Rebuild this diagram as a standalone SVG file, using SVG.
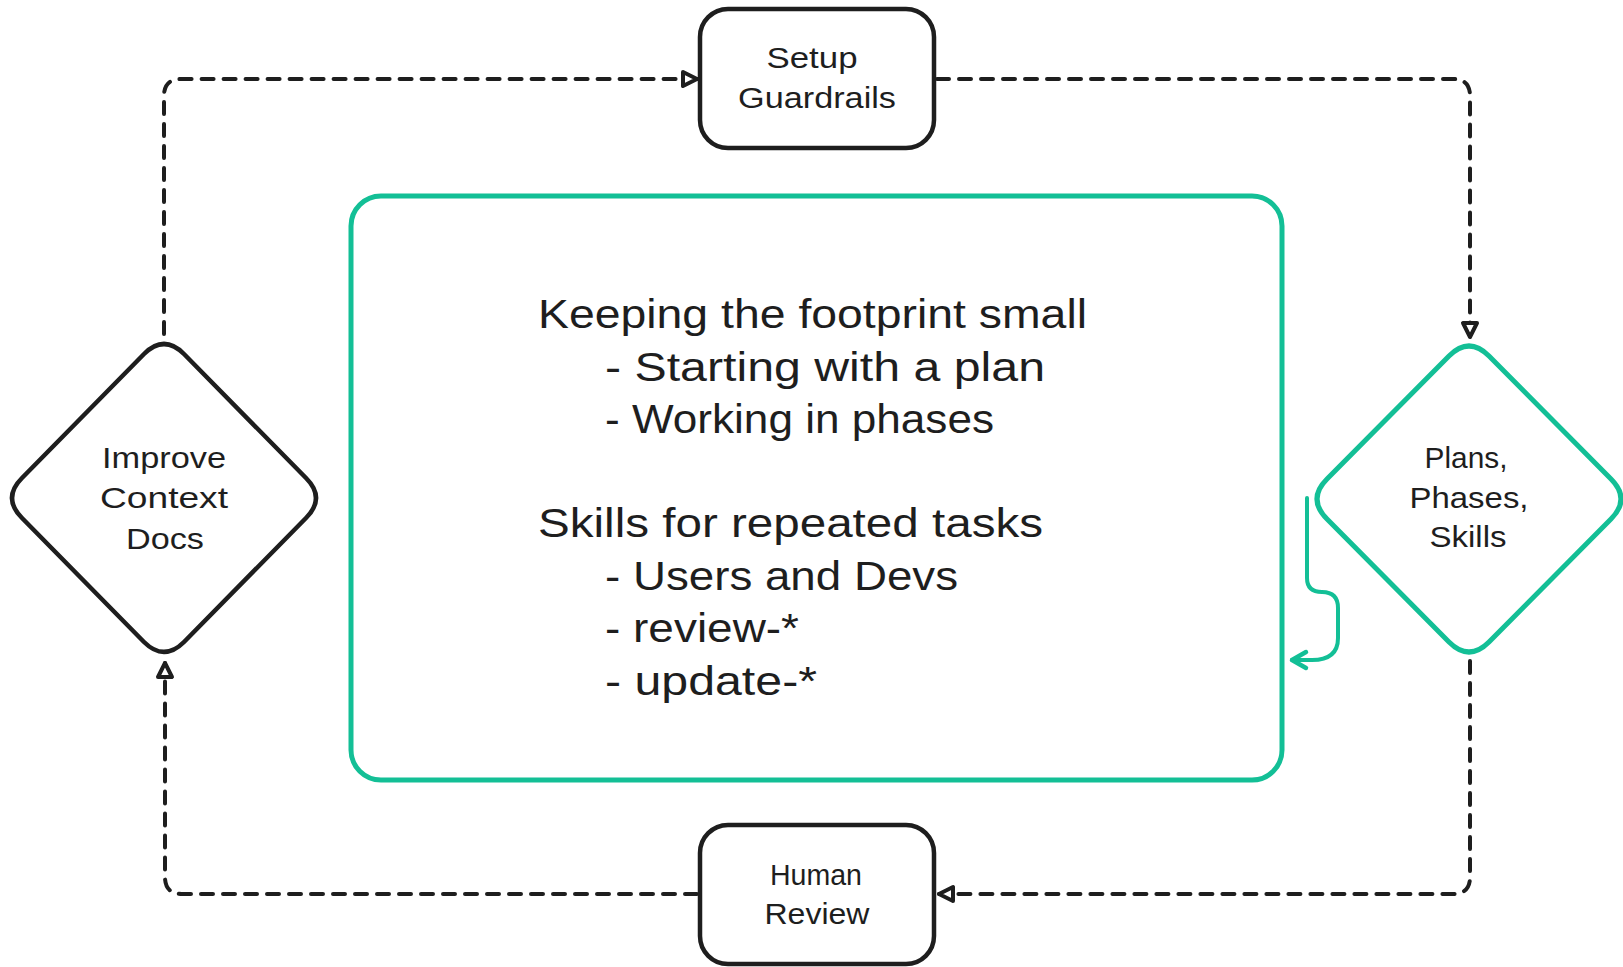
<svg xmlns="http://www.w3.org/2000/svg" width="1623" height="967" viewBox="0 0 1623 967">
<style>
  .node { fill: #ffffff; stroke: #1e1e1e; stroke-width: 4.5; stroke-linejoin: round; }
  .teal { fill: #ffffff; stroke: #13bf96; stroke-width: 5; stroke-linejoin: round; }
  .conn { fill: none; stroke: #1e1e1e; stroke-width: 4; stroke-dasharray: 12 10; stroke-linecap: round; stroke-linejoin: round; }
  .tconn { fill: none; stroke: #13bf96; stroke-width: 4; stroke-linecap: round; stroke-linejoin: round; }
  .lbl { font-family: "Liberation Sans", "DejaVu Sans", sans-serif; font-size: 30px; fill: #1e1e1e; text-anchor: middle; }
  .body { font-family: "Liberation Sans", "DejaVu Sans", sans-serif; font-size: 40px; fill: #1e1e1e; }
</style>
<defs>
  <marker id="ah" markerUnits="userSpaceOnUse" markerWidth="24" markerHeight="24" refX="19" refY="12" orient="auto" viewBox="0 0 24 24">
    <path d="M5,5 L19,12 L5,19 Z" fill="#ffffff" stroke="#1e1e1e" stroke-width="4" stroke-linejoin="round"/>
  </marker>
  <marker id="tah" markerUnits="userSpaceOnUse" markerWidth="26" markerHeight="26" refX="21" refY="13" orient="auto" viewBox="0 0 26 26">
    <path d="M7,5 L21,13 L7,21" fill="none" stroke="#13bf96" stroke-width="4.5" stroke-linecap="round" stroke-linejoin="round"/>
  </marker>
</defs>
<rect width="1623" height="967" fill="#ffffff"/>

<g id="connectors">
  <path class="conn" d="M164,334 L164,96 Q164,79 181,79 L697,79" marker-end="url(#ah)"/>
  <path class="conn" d="M937,79 L1453,79 Q1470,79 1470,96 L1470,337" marker-end="url(#ah)"/>
  <path class="conn" d="M1470,661 L1470,877 Q1470,894 1453,894 L939,894" marker-end="url(#ah)"/>
  <path class="conn" d="M697,894 L182,894 Q165,894 165,877 L165,663" marker-end="url(#ah)"/>
  <path class="tconn" d="M1307,498 L1307,578 Q1307,592 1322,592 Q1338,592 1338,608 L1338,638 Q1338,660 1312,660 L1292,660" marker-end="url(#tah)"/>
</g>

<g id="main-box">
  <rect class="teal" x="351" y="196" width="931" height="584" rx="30"/>
  <text class="body" x="538" y="328" textLength="549" lengthAdjust="spacingAndGlyphs">Keeping the footprint small</text>
  <text class="body" x="605" y="381" textLength="440" lengthAdjust="spacingAndGlyphs">- Starting with a plan</text>
  <text class="body" x="605" y="433" textLength="389" lengthAdjust="spacingAndGlyphs">- Working in phases</text>
  <text class="body" x="538" y="537" textLength="505" lengthAdjust="spacingAndGlyphs">Skills for repeated tasks</text>
  <text class="body" x="605" y="590" textLength="353" lengthAdjust="spacingAndGlyphs">- Users and Devs</text>
  <text class="body" x="605" y="642" textLength="194" lengthAdjust="spacingAndGlyphs">- review-*</text>
  <text class="body" x="605" y="695" textLength="212" lengthAdjust="spacingAndGlyphs">- update-*</text>
</g>

<g id="setup-guardrails">
  <rect class="node" x="700" y="9" width="234" height="139" rx="28"/>
  <text class="lbl" x="812" y="68" textLength="91" lengthAdjust="spacingAndGlyphs">Setup</text>
  <text class="lbl" x="817" y="108" textLength="158" lengthAdjust="spacingAndGlyphs">Guardrails</text>
</g>

<g id="plans-phases-skills">
  <path class="teal" d="M1449,356 Q1469,336 1489,356 L1611,479 Q1631,499 1611,519 L1489,642 Q1469,662 1449,642 L1327,519 Q1307,499 1327,479 Z"/>
  <text class="lbl" x="1466" y="468" textLength="83" lengthAdjust="spacingAndGlyphs">Plans,</text>
  <text class="lbl" x="1469" y="508" textLength="119" lengthAdjust="spacingAndGlyphs">Phases,</text>
  <text class="lbl" x="1468" y="547" textLength="77" lengthAdjust="spacingAndGlyphs">Skills</text>
</g>

<g id="human-review">
  <rect class="node" x="700" y="825" width="234" height="139" rx="28"/>
  <text class="lbl" x="816" y="885" textLength="92" lengthAdjust="spacingAndGlyphs">Human</text>
  <text class="lbl" x="817" y="924" textLength="105" lengthAdjust="spacingAndGlyphs">Review</text>
</g>

<g id="improve-context-docs">
  <path class="node" d="M144,354 Q164,334 184,354 L306,478 Q326,498 306,518 L184,642 Q164,662 144,642 L22,518 Q2,498 22,478 Z"/>
  <text class="lbl" x="164" y="468" textLength="124" lengthAdjust="spacingAndGlyphs">Improve</text>
  <text class="lbl" x="164" y="508" textLength="128" lengthAdjust="spacingAndGlyphs">Context</text>
  <text class="lbl" x="165" y="549" textLength="78" lengthAdjust="spacingAndGlyphs">Docs</text>
</g>
</svg>
